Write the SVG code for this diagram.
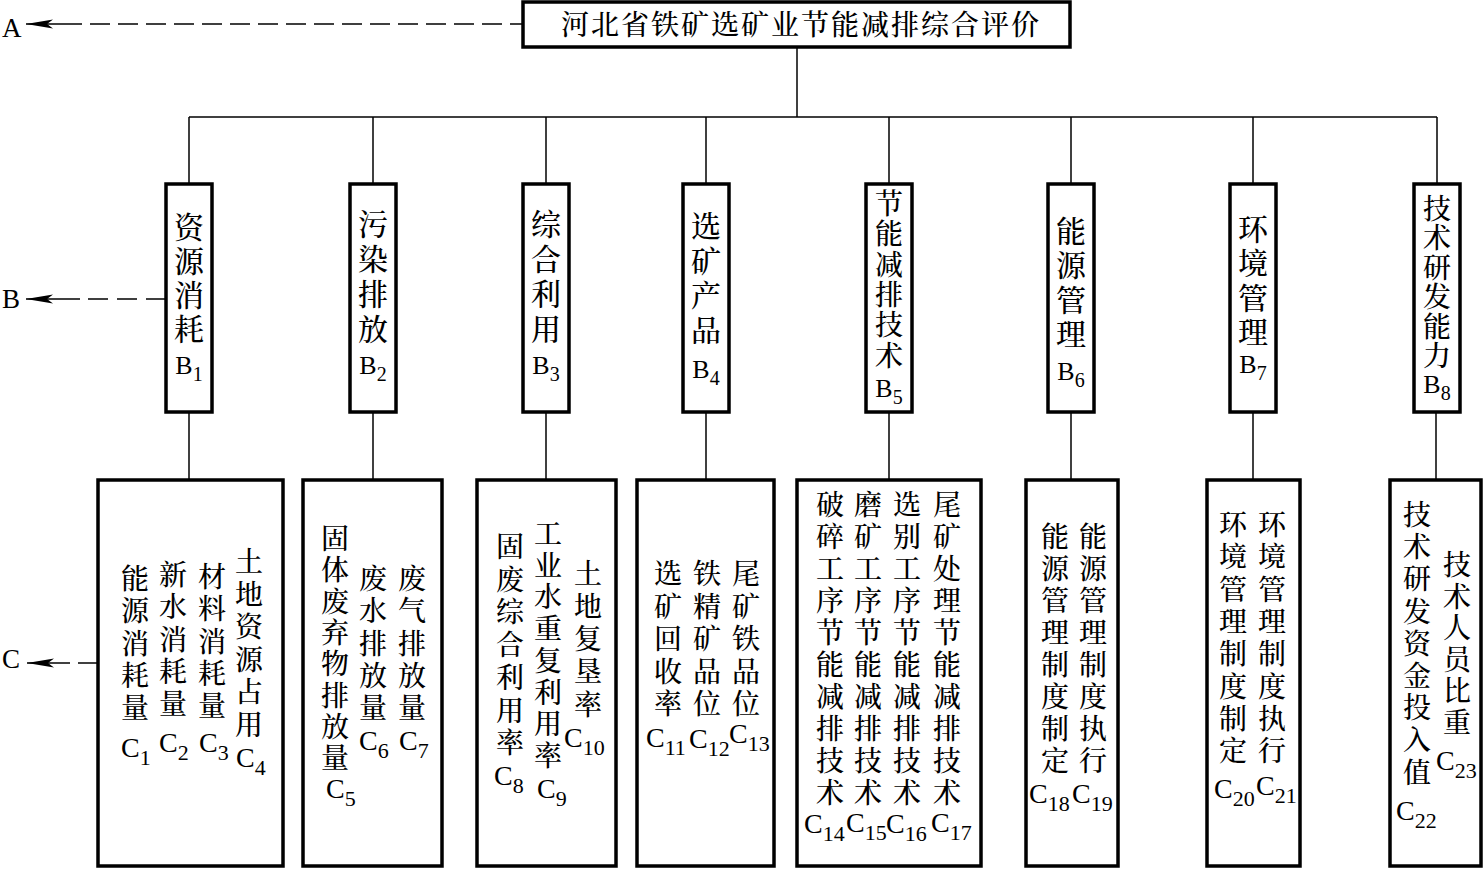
<svg xmlns="http://www.w3.org/2000/svg" width="1483" height="869" viewBox="0 0 1483 869">
<style>
.box{fill:#fff;stroke:#000;stroke-width:3.5}
.ln{fill:none;stroke:#000;stroke-width:1.5}
.zh{font-family:'Liberation Serif','Noto Serif CJK SC','Noto Sans CJK SC',serif;font-size:28px;font-weight:500;text-anchor:middle;fill:#000}
.zb{font-size:30px}
.lat{font-family:'Liberation Serif',serif;font-size:28px;fill:#000}
.bl{font-size:26px;text-anchor:middle}
.sub{font-size:22px}
.bsub{font-size:20px}
.lab{font-family:'Liberation Serif',serif;font-size:27px;fill:#000}
</style>
<defs>
<marker id="ah" markerUnits="userSpaceOnUse" viewBox="0 0 27 10" refX="27" refY="5" markerWidth="27" markerHeight="10" orient="auto">
<path d="M0,0.5 L27,5 L0,9.5 L6,5 z" fill="#000"/>
</marker>
</defs>

<g id="connectors">
<line class="ln" x1="797" y1="47" x2="797" y2="117"/>
<line class="ln" x1="189" y1="117" x2="1437" y2="117"/>
<line class="ln" x1="189" y1="117" x2="189" y2="184"/>
<line class="ln" x1="373" y1="117" x2="373" y2="184"/>
<line class="ln" x1="546" y1="117" x2="546" y2="184"/>
<line class="ln" x1="706" y1="117" x2="706" y2="184"/>
<line class="ln" x1="889" y1="117" x2="889" y2="184"/>
<line class="ln" x1="1071" y1="117" x2="1071" y2="184"/>
<line class="ln" x1="1253" y1="117" x2="1253" y2="184"/>
<line class="ln" x1="1437" y1="117" x2="1437" y2="184"/>
<line class="ln" x1="189" y1="412" x2="189" y2="480"/>
<line class="ln" x1="373" y1="412" x2="373" y2="480"/>
<line class="ln" x1="546" y1="412" x2="546" y2="480"/>
<line class="ln" x1="706" y1="412" x2="706" y2="480"/>
<line class="ln" x1="889" y1="412" x2="889" y2="480"/>
<line class="ln" x1="1071" y1="412" x2="1071" y2="480"/>
<line class="ln" x1="1253" y1="412" x2="1253" y2="480"/>
<line class="ln" x1="1436" y1="412" x2="1436" y2="480"/>
<line class="ln" x1="90" y1="24" x2="523" y2="24" stroke-dasharray="20 8"/>
<line class="ln" x1="82" y1="24" x2="26" y2="24" marker-end="url(#ah)"/>
<line class="ln" x1="88" y1="299" x2="166" y2="299" stroke-dasharray="20 9"/>
<line class="ln" x1="80" y1="299" x2="26" y2="299" marker-end="url(#ah)"/>
<line class="ln" x1="78" y1="663" x2="98" y2="663"/>
<line class="ln" x1="70" y1="663" x2="27" y2="663" marker-end="url(#ah)"/>
</g>

<g id="labels">
<text class="lab" x="2" y="37">A</text>
<text class="lab" x="2" y="308">B</text>
<text class="lab" x="2" y="668">C</text>
</g>

<g id="A">
<rect class="box" x="523" y="2" width="547" height="45"/>
<text class="zh" x="801" y="35" style="font-size:28px;letter-spacing:2px">河北省铁矿选矿业节能减排综合评价</text>
</g>

<g id="B1">
<rect class="box" x="166" y="184" width="46" height="228"/>
<text class="zh zb" x="189" y="238"><tspan x="189">资</tspan><tspan x="189" dy="34">源</tspan><tspan x="189" dy="34">消</tspan><tspan x="189" dy="34">耗</tspan></text>
<text class="lat bl" x="189" y="374">B<tspan class="bsub" dy="7">1</tspan></text>
</g>
<g id="B2">
<rect class="box" x="350" y="184" width="46" height="228"/>
<text class="zh zb" x="373" y="235"><tspan x="373">污</tspan><tspan x="373" dy="35">染</tspan><tspan x="373" dy="35">排</tspan><tspan x="373" dy="35">放</tspan></text>
<text class="lat bl" x="373" y="374">B<tspan class="bsub" dy="7">2</tspan></text>
</g>
<g id="B3">
<rect class="box" x="523" y="184" width="46" height="228"/>
<text class="zh zb" x="546" y="235"><tspan x="546">综</tspan><tspan x="546" dy="35">合</tspan><tspan x="546" dy="35">利</tspan><tspan x="546" dy="35">用</tspan></text>
<text class="lat bl" x="546" y="374">B<tspan class="bsub" dy="7">3</tspan></text>
</g>
<g id="B4">
<rect class="box" x="683" y="184" width="46" height="228"/>
<text class="zh zb" x="706" y="237"><tspan x="706">选</tspan><tspan x="706" dy="34.7">矿</tspan><tspan x="706" dy="34.7">产</tspan><tspan x="706" dy="34.7">品</tspan></text>
<text class="lat bl" x="706" y="378">B<tspan class="bsub" dy="7">4</tspan></text>
</g>
<g id="B5">
<rect class="box" x="866" y="184" width="46" height="228"/>
<text class="zh" x="889" y="214"><tspan x="889">节</tspan><tspan x="889" dy="30.3">能</tspan><tspan x="889" dy="30.3">减</tspan><tspan x="889" dy="30.3">排</tspan><tspan x="889" dy="30.3">技</tspan><tspan x="889" dy="30.3">术</tspan></text>
<text class="lat bl" x="889" y="397">B<tspan class="bsub" dy="7">5</tspan></text>
</g>
<g id="B6">
<rect class="box" x="1048" y="184" width="46" height="228"/>
<text class="zh zb" x="1071" y="242"><tspan x="1071">能</tspan><tspan x="1071" dy="34.3">源</tspan><tspan x="1071" dy="34.3">管</tspan><tspan x="1071" dy="34.3">理</tspan></text>
<text class="lat bl" x="1071" y="380">B<tspan class="bsub" dy="7">6</tspan></text>
</g>
<g id="B7">
<rect class="box" x="1230" y="184" width="46" height="228"/>
<text class="zh zb" x="1253" y="240"><tspan x="1253">环</tspan><tspan x="1253" dy="34.3">境</tspan><tspan x="1253" dy="34.3">管</tspan><tspan x="1253" dy="34.3">理</tspan></text>
<text class="lat bl" x="1253" y="373">B<tspan class="bsub" dy="7">7</tspan></text>
</g>
<g id="B8">
<rect class="box" x="1414" y="184" width="46" height="228"/>
<text class="zh" x="1437" y="219"><tspan x="1437">技</tspan><tspan x="1437" dy="29.4">术</tspan><tspan x="1437" dy="29.4">研</tspan><tspan x="1437" dy="29.4">发</tspan><tspan x="1437" dy="29.4">能</tspan><tspan x="1437" dy="29.4">力</tspan></text>
<text class="lat bl" x="1437" y="393">B<tspan class="bsub" dy="7">8</tspan></text>
</g>

<g id="C1-C4">
<rect class="box" x="98" y="480" width="185" height="386"/>
<text class="zh" x="135" y="589"><tspan x="135">能</tspan><tspan x="135" dy="32.3">源</tspan><tspan x="135" dy="32.3">消</tspan><tspan x="135" dy="32.3">耗</tspan><tspan x="135" dy="32.3">量</tspan></text>
<text class="zh" x="173" y="585"><tspan x="173">新</tspan><tspan x="173" dy="32.3">水</tspan><tspan x="173" dy="32.3">消</tspan><tspan x="173" dy="32.3">耗</tspan><tspan x="173" dy="32.3">量</tspan></text>
<text class="zh" x="212" y="587"><tspan x="212">材</tspan><tspan x="212" dy="32.3">料</tspan><tspan x="212" dy="32.3">消</tspan><tspan x="212" dy="32.3">耗</tspan><tspan x="212" dy="32.3">量</tspan></text>
<text class="zh" x="249" y="572"><tspan x="249">土</tspan><tspan x="249" dy="32.5">地</tspan><tspan x="249" dy="32.5">资</tspan><tspan x="249" dy="32.5">源</tspan><tspan x="249" dy="32.5">占</tspan><tspan x="249" dy="32.5">用</tspan></text>
<text class="lat" x="121" y="757">C<tspan class="sub" dy="8">1</tspan></text>
<text class="lat" x="159" y="752">C<tspan class="sub" dy="8">2</tspan></text>
<text class="lat" x="199" y="752">C<tspan class="sub" dy="8">3</tspan></text>
<text class="lat" x="236" y="767">C<tspan class="sub" dy="8">4</tspan></text>
</g>

<g id="C5-C7">
<rect class="box" x="303" y="480" width="139" height="386"/>
<text class="zh" x="335" y="549"><tspan x="335">固</tspan><tspan x="335" dy="31.3">体</tspan><tspan x="335" dy="31.3">废</tspan><tspan x="335" dy="31.3">弃</tspan><tspan x="335" dy="31.3">物</tspan><tspan x="335" dy="31.3">排</tspan><tspan x="335" dy="31.3">放</tspan><tspan x="335" dy="31.3">量</tspan></text>
<text class="zh" x="373" y="589"><tspan x="373">废</tspan><tspan x="373" dy="32.3">水</tspan><tspan x="373" dy="32.3">排</tspan><tspan x="373" dy="32.3">放</tspan><tspan x="373" dy="32.3">量</tspan></text>
<text class="zh" x="412" y="589"><tspan x="412">废</tspan><tspan x="412" dy="32.3">气</tspan><tspan x="412" dy="32.3">排</tspan><tspan x="412" dy="32.3">放</tspan><tspan x="412" dy="32.3">量</tspan></text>
<text class="lat" x="326" y="798">C<tspan class="sub" dy="8">5</tspan></text>
<text class="lat" x="359" y="750">C<tspan class="sub" dy="8">6</tspan></text>
<text class="lat" x="399" y="750">C<tspan class="sub" dy="8">7</tspan></text>
</g>

<g id="C8-C10">
<rect class="box" x="477" y="480" width="139" height="386"/>
<text class="zh" x="510" y="557"><tspan x="510">固</tspan><tspan x="510" dy="32.7">废</tspan><tspan x="510" dy="32.7">综</tspan><tspan x="510" dy="32.7">合</tspan><tspan x="510" dy="32.7">利</tspan><tspan x="510" dy="32.7">用</tspan><tspan x="510" dy="32.7">率</tspan></text>
<text class="zh" x="548" y="544"><tspan x="548">工</tspan><tspan x="548" dy="31.7">业</tspan><tspan x="548" dy="31.7">水</tspan><tspan x="548" dy="31.7">重</tspan><tspan x="548" dy="31.7">复</tspan><tspan x="548" dy="31.7">利</tspan><tspan x="548" dy="31.7">用</tspan><tspan x="548" dy="31.7">率</tspan></text>
<text class="zh" x="588" y="584"><tspan x="588">土</tspan><tspan x="588" dy="32.7">地</tspan><tspan x="588" dy="32.7">复</tspan><tspan x="588" dy="32.7">垦</tspan><tspan x="588" dy="32.7">率</tspan></text>
<text class="lat" x="494" y="785">C<tspan class="sub" dy="8">8</tspan></text>
<text class="lat" x="537" y="798">C<tspan class="sub" dy="8">9</tspan></text>
<text class="lat" x="564" y="747">C<tspan class="sub" dy="8">10</tspan></text>
</g>

<g id="C11-C13">
<rect class="box" x="637" y="480" width="137" height="386"/>
<text class="zh" x="668" y="584"><tspan x="668">选</tspan><tspan x="668" dy="32.5">矿</tspan><tspan x="668" dy="32.5">回</tspan><tspan x="668" dy="32.5">收</tspan><tspan x="668" dy="32.5">率</tspan></text>
<text class="zh" x="707" y="584"><tspan x="707">铁</tspan><tspan x="707" dy="32.5">精</tspan><tspan x="707" dy="32.5">矿</tspan><tspan x="707" dy="32.5">品</tspan><tspan x="707" dy="32.5">位</tspan></text>
<text class="zh" x="746" y="584"><tspan x="746">尾</tspan><tspan x="746" dy="32.5">矿</tspan><tspan x="746" dy="32.5">铁</tspan><tspan x="746" dy="32.5">品</tspan><tspan x="746" dy="32.5">位</tspan></text>
<text class="lat" x="646" y="747">C<tspan class="sub" dy="8">11</tspan></text>
<text class="lat" x="689" y="748">C<tspan class="sub" dy="8">12</tspan></text>
<text class="lat" x="729" y="743">C<tspan class="sub" dy="8">13</tspan></text>
</g>

<g id="C14-C17">
<rect class="box" x="797" y="480" width="184" height="386"/>
<text class="zh" x="830" y="515"><tspan x="830">破</tspan><tspan x="830" dy="32">碎</tspan><tspan x="830" dy="32">工</tspan><tspan x="830" dy="32">序</tspan><tspan x="830" dy="32">节</tspan><tspan x="830" dy="32">能</tspan><tspan x="830" dy="32">减</tspan><tspan x="830" dy="32">排</tspan><tspan x="830" dy="32">技</tspan><tspan x="830" dy="32">术</tspan></text>
<text class="zh" x="868" y="515"><tspan x="868">磨</tspan><tspan x="868" dy="32">矿</tspan><tspan x="868" dy="32">工</tspan><tspan x="868" dy="32">序</tspan><tspan x="868" dy="32">节</tspan><tspan x="868" dy="32">能</tspan><tspan x="868" dy="32">减</tspan><tspan x="868" dy="32">排</tspan><tspan x="868" dy="32">技</tspan><tspan x="868" dy="32">术</tspan></text>
<text class="zh" x="907" y="515"><tspan x="907">选</tspan><tspan x="907" dy="32">别</tspan><tspan x="907" dy="32">工</tspan><tspan x="907" dy="32">序</tspan><tspan x="907" dy="32">节</tspan><tspan x="907" dy="32">能</tspan><tspan x="907" dy="32">减</tspan><tspan x="907" dy="32">排</tspan><tspan x="907" dy="32">技</tspan><tspan x="907" dy="32">术</tspan></text>
<text class="zh" x="947" y="515"><tspan x="947">尾</tspan><tspan x="947" dy="32">矿</tspan><tspan x="947" dy="32">处</tspan><tspan x="947" dy="32">理</tspan><tspan x="947" dy="32">节</tspan><tspan x="947" dy="32">能</tspan><tspan x="947" dy="32">减</tspan><tspan x="947" dy="32">排</tspan><tspan x="947" dy="32">技</tspan><tspan x="947" dy="32">术</tspan></text>
<text class="lat" x="804" y="833">C<tspan class="sub" dy="8">14</tspan></text>
<text class="lat" x="846" y="832">C<tspan class="sub" dy="8">15</tspan></text>
<text class="lat" x="886" y="833">C<tspan class="sub" dy="8">16</tspan></text>
<text class="lat" x="931" y="832">C<tspan class="sub" dy="8">17</tspan></text>
</g>

<g id="C18-C19">
<rect class="box" x="1026" y="480" width="92" height="386"/>
<text class="zh" x="1055" y="547"><tspan x="1055">能</tspan><tspan x="1055" dy="32">源</tspan><tspan x="1055" dy="32">管</tspan><tspan x="1055" dy="32">理</tspan><tspan x="1055" dy="32">制</tspan><tspan x="1055" dy="32">度</tspan><tspan x="1055" dy="32">制</tspan><tspan x="1055" dy="32">定</tspan></text>
<text class="zh" x="1093" y="547"><tspan x="1093">能</tspan><tspan x="1093" dy="32">源</tspan><tspan x="1093" dy="32">管</tspan><tspan x="1093" dy="32">理</tspan><tspan x="1093" dy="32">制</tspan><tspan x="1093" dy="32">度</tspan><tspan x="1093" dy="32">执</tspan><tspan x="1093" dy="32">行</tspan></text>
<text class="lat" x="1029" y="803">C<tspan class="sub" dy="8">18</tspan></text>
<text class="lat" x="1072" y="803">C<tspan class="sub" dy="8">19</tspan></text>
</g>

<g id="C20-C21">
<rect class="box" x="1207" y="480" width="93" height="386"/>
<text class="zh" x="1233" y="535"><tspan x="1233">环</tspan><tspan x="1233" dy="32.3">境</tspan><tspan x="1233" dy="32.3">管</tspan><tspan x="1233" dy="32.3">理</tspan><tspan x="1233" dy="32.3">制</tspan><tspan x="1233" dy="32.3">度</tspan><tspan x="1233" dy="32.3">制</tspan><tspan x="1233" dy="32.3">定</tspan></text>
<text class="zh" x="1272" y="535"><tspan x="1272">环</tspan><tspan x="1272" dy="32.3">境</tspan><tspan x="1272" dy="32.3">管</tspan><tspan x="1272" dy="32.3">理</tspan><tspan x="1272" dy="32.3">制</tspan><tspan x="1272" dy="32.3">度</tspan><tspan x="1272" dy="32.3">执</tspan><tspan x="1272" dy="32.3">行</tspan></text>
<text class="lat" x="1214" y="798">C<tspan class="sub" dy="8">20</tspan></text>
<text class="lat" x="1256" y="795">C<tspan class="sub" dy="8">21</tspan></text>
</g>

<g id="C22-C23">
<rect class="box" x="1390" y="480" width="91" height="386"/>
<text class="zh" x="1417" y="525"><tspan x="1417">技</tspan><tspan x="1417" dy="32.2">术</tspan><tspan x="1417" dy="32.2">研</tspan><tspan x="1417" dy="32.2">发</tspan><tspan x="1417" dy="32.2">资</tspan><tspan x="1417" dy="32.2">金</tspan><tspan x="1417" dy="32.2">投</tspan><tspan x="1417" dy="32.2">入</tspan><tspan x="1417" dy="32.2">值</tspan></text>
<text class="zh" x="1457" y="575"><tspan x="1457">技</tspan><tspan x="1457" dy="31.6">术</tspan><tspan x="1457" dy="31.6">人</tspan><tspan x="1457" dy="31.6">员</tspan><tspan x="1457" dy="31.6">比</tspan><tspan x="1457" dy="31.6">重</tspan></text>
<text class="lat" x="1396" y="820">C<tspan class="sub" dy="8">22</tspan></text>
<text class="lat" x="1436" y="770">C<tspan class="sub" dy="8">23</tspan></text>
</g>
</svg>
